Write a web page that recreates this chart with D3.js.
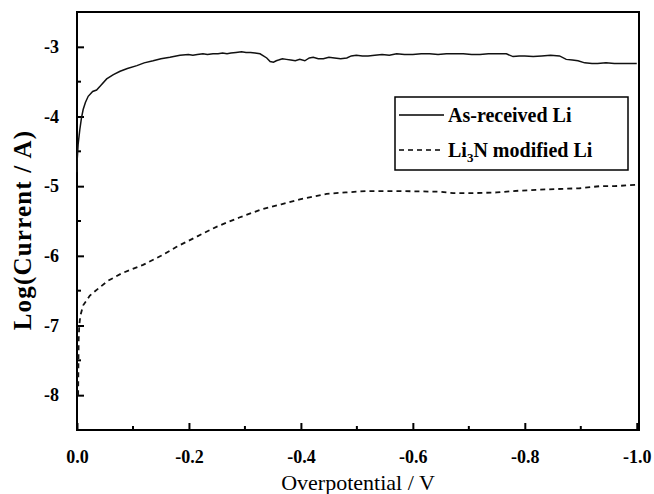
<!DOCTYPE html>
<html>
<head>
    <meta charset="utf-8">
    <title>Log current vs overpotential</title>
    <script src="https://d3js.org/d3.v7.min.js"></script>
    <style>
        body { margin: 0; background: #fff; }
        text { font-family: "Liberation Serif", "Times New Roman", serif; }
    </style>
</head>
<body>
    <div id="chart"></div>
    <script>
        // As-received Li (solid line)
        const asReceivedV = [0, -0.0005, -0.002, -0.005, -0.008, -0.011, -0.015, -0.02, -0.028, -0.035,
            -0.042, -0.053, -0.065, -0.077, -0.09, -0.107, -0.12, -0.136, -0.15, -0.166,
            -0.184, -0.199, -0.207, -0.215, -0.225, -0.233, -0.243, -0.252, -0.26, -0.268,
            -0.275, -0.284, -0.294, -0.302, -0.31, -0.318, -0.327, -0.333, -0.339, -0.345,
            -0.351, -0.356, -0.36, -0.367, -0.374, -0.382, -0.39, -0.398, -0.407, -0.415,
            -0.422, -0.431, -0.44, -0.45, -0.46, -0.471, -0.482, -0.49, -0.499, -0.51,
            -0.52, -0.532, -0.545, -0.558, -0.571, -0.585, -0.6, -0.615, -0.63, -0.645,
            -0.66, -0.675, -0.69, -0.705, -0.72, -0.735, -0.75, -0.767, -0.779, -0.79,
            -0.8, -0.815, -0.83, -0.846, -0.862, -0.874, -0.885, -0.895, -0.907, -0.92,
            -0.93, -0.945, -0.96, -0.98, -1.0];
        const asReceivedLog = [-4.8, -4.6, -4.4, -4.19, -4.02, -3.9, -3.8, -3.71, -3.64, -3.62,
            -3.56, -3.46, -3.4, -3.35, -3.31, -3.27, -3.23, -3.2, -3.17, -3.15,
            -3.12, -3.11, -3.12, -3.11, -3.1, -3.11, -3.10, -3.1, -3.09, -3.1,
            -3.09, -3.08, -3.07, -3.08, -3.08, -3.09, -3.1, -3.13, -3.16, -3.21,
            -3.22, -3.2, -3.19, -3.17, -3.18, -3.19, -3.2, -3.18, -3.2, -3.16,
            -3.15, -3.17, -3.17, -3.15, -3.16, -3.17, -3.16, -3.13, -3.12, -3.13,
            -3.13, -3.12, -3.11, -3.12, -3.1, -3.11, -3.11, -3.1, -3.1, -3.11,
            -3.1, -3.1, -3.1, -3.11, -3.11, -3.1, -3.1, -3.1, -3.14, -3.13,
            -3.13, -3.14, -3.13, -3.12, -3.13, -3.18, -3.19, -3.2, -3.23, -3.24,
            -3.24, -3.23, -3.24, -3.24, -3.24];

        // Li3N modified Li (dashed line)
        const li3nV = [-0.002, -0.0025, -0.003, -0.004, -0.006, -0.011, -0.023, -0.041, -0.055, -0.08,
            -0.118, -0.15, -0.178, -0.215, -0.25, -0.29, -0.327, -0.365, -0.398, -0.446,
            -0.48, -0.517, -0.577, -0.648, -0.672, -0.708, -0.75, -0.779, -0.827, -0.898,
            -0.934, -0.96, -1.0];
        const li3nLog = [-8.0, -7.6, -7.2, -7.0, -6.86, -6.71, -6.57, -6.45, -6.36, -6.25,
            -6.13, -6.0, -5.87, -5.72, -5.58, -5.45, -5.34, -5.26, -5.19, -5.11,
            -5.09, -5.07, -5.07, -5.08, -5.1, -5.1, -5.09, -5.07, -5.05, -5.03,
            -5.0, -5.0, -4.98];

        const xTicks = [0, -0.2, -0.4, -0.6, -0.8, -1.0];
        const xMinorTicks = [-0.1, -0.3, -0.5, -0.7, -0.9];
        const yTicks = [-3, -4, -5, -6, -7, -8];
        const yMinorTicks = [-3.5, -4.5, -5.5, -6.5, -7.5];

        const width = 654, height = 494;
        const mLeft = 77, mRight = 639, mTop = 12, mBottom = 430;

        const svg = d3.select("#chart")
            .append("svg")
            .attr("width", width)
            .attr("height", height);

        const x = d3.scaleLinear().domain([0, -1.004]).range([mLeft, mRight]);
        const y = d3.scaleLinear().domain([-8.5, -2.5]).range([mBottom, mTop]);

        // plain hyphen for minus, like the original figure
        const fmtX = d => (d < 0 ? "-" : "") + Math.abs(d).toFixed(1);
        const fmtY = d => (d < 0 ? "-" : "") + Math.abs(d);

        // ticks point into the plot
        const xAxis = svg.append("g")
            .attr("transform", `translate(0,${mBottom})`)
            .call(d3.axisBottom(x).tickValues(xTicks).tickSize(-7).tickPadding(20).tickFormat(fmtX));
        xAxis.append("g").selectAll("line")
            .data(xMinorTicks)
            .enter()
            .append("line")
            .attr("x1", d => x(d)).attr("x2", d => x(d))
            .attr("y1", 0).attr("y2", -4)
            .style("stroke", "#000").style("stroke-width", 2);

        const yAxis = svg.append("g")
            .attr("transform", `translate(${mLeft},0)`)
            .call(d3.axisLeft(y).tickValues(yTicks).tickSize(-7).tickPadding(18).tickFormat(fmtY));
        yAxis.append("g").selectAll("line")
            .data(yMinorTicks)
            .enter()
            .append("line")
            .attr("y1", d => y(d)).attr("y2", d => y(d))
            .attr("x1", 0).attr("x2", 4)
            .style("stroke", "#000").style("stroke-width", 2);

        svg.selectAll(".domain").remove();
        svg.selectAll(".tick line").style("stroke", "#000").style("stroke-width", 2);
        svg.selectAll(".tick text")
            .style("font-family", "'Liberation Serif', serif")
            .style("font-weight", "bold")
            .style("font-size", "18px")
            .style("fill", "#000");

        // frame
        svg.append("rect")
            .attr("x", mLeft).attr("y", mTop)
            .attr("width", mRight - mLeft).attr("height", mBottom - mTop)
            .style("fill", "none").style("stroke", "#000").style("stroke-width", 2);

        const line = d3.line()
            .x(d => x(d[0]))
            .y(d => y(d[1]));

        svg.append("path")
            .datum(d3.zip(asReceivedV, asReceivedLog))
            .attr("d", line)
            .style("fill", "none").style("stroke", "#111").style("stroke-width", 1.5);

        svg.append("path")
            .datum(d3.zip(li3nV, li3nLog))
            .attr("d", line)
            .style("fill", "none").style("stroke", "#111").style("stroke-width", 1.8)
            .style("stroke-dasharray", "5,4");

        // axis titles
        svg.append("text")
            .attr("x", 358).attr("y", 490)
            .style("text-anchor", "middle")
            .style("font-size", "22px")
            .text("Overpotential / V");

        svg.append("text")
            .attr("transform", "translate(31,230) rotate(-90)")
            .style("text-anchor", "middle")
            .style("font-size", "25px")
            .style("font-weight", "bold")
            .style("letter-spacing", "1.2px")
            .text("Log(Current / A)");

        // legend
        const legend = svg.append("g");
        legend.append("rect")
            .attr("x", 395).attr("y", 97)
            .attr("width", 233).attr("height", 73)
            .style("fill", "#fff").style("stroke", "#000").style("stroke-width", 1.5);

        legend.append("line")
            .attr("x1", 399).attr("x2", 444).attr("y1", 115).attr("y2", 115)
            .style("stroke", "#000").style("stroke-width", 1.5);
        legend.append("line")
            .attr("x1", 399).attr("x2", 444).attr("y1", 150).attr("y2", 150)
            .style("stroke", "#000").style("stroke-width", 1.5)
            .style("stroke-dasharray", "5,4");

        legend.append("text")
            .attr("x", 448).attr("y", 122)
            .style("font-size", "20px").style("font-weight", "bold")
            .text("As-received Li");

        const t2 = legend.append("text")
            .attr("x", 448).attr("y", 157)
            .style("font-size", "20px").style("font-weight", "bold");
        t2.append("tspan").text("Li");
        t2.append("tspan").attr("dy", 5).style("font-size", "13px").text("3");
        t2.append("tspan").attr("dy", -5).text("N modified Li");
    </script>
</body>
</html>
